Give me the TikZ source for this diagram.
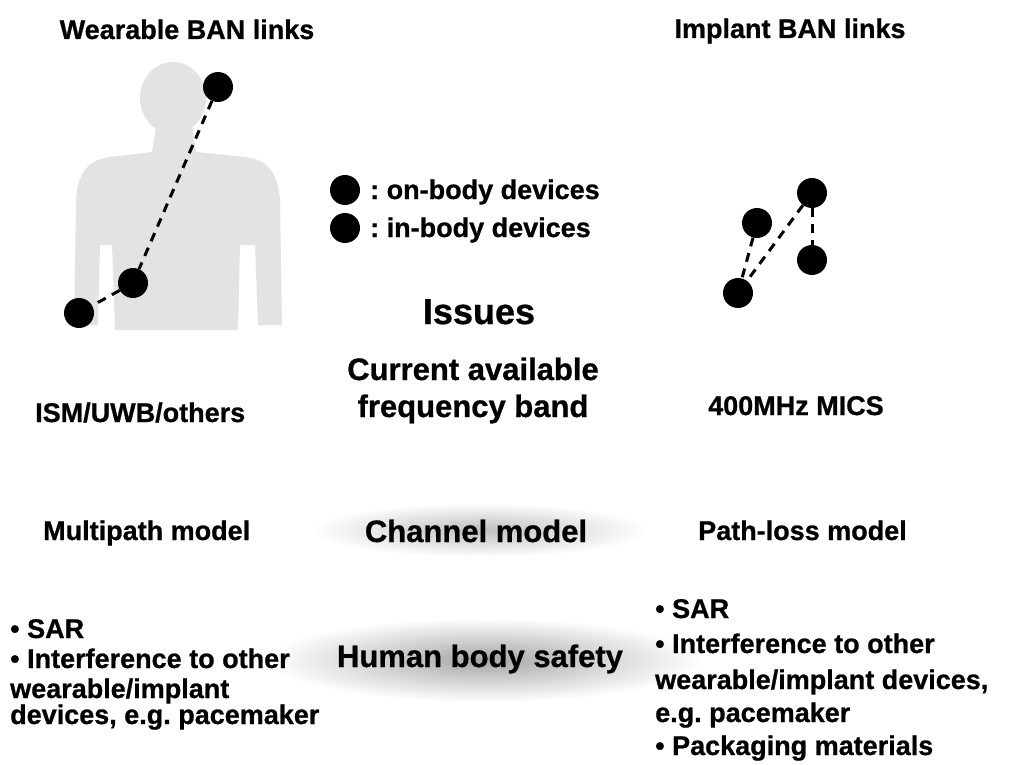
\documentclass[tikz,border=0pt]{standalone}
\usepackage{fontspec}
\setmainfont{Liberation Sans}[BoldFeatures={FakeBold=0.8}]
\frenchspacing
\begin{document}
\begin{tikzpicture}[x=1pt,y=-1pt,
  txt/.style={font=\bfseries\fontsize{27}{30}\selectfont, inner sep=0pt},
  midhead/.style={font=\bfseries\fontsize{31}{36}\selectfont, inner sep=0pt},
  bighead/.style={font=\bfseries\fontsize{36}{40}\selectfont, inner sep=0pt},
  dev/.style={circle, fill=black, minimum size=30pt, inner sep=0pt},
  link/.style={line width=3pt, dash pattern=on 9pt off 7pt},
  bodyfill/.style={fill=black!11}]
\useasboundingbox (0,0) rectangle (1012,765);

% body silhouette (stippled in the original)
\fill[bodyfill] (173,98) ellipse (33 and 36);
\fill[bodyfill] (156,126) -- (192,126) -- (196,152) -- (245,157)
  .. controls (270,160) and (278,175) .. (280,200) -- (282,325) -- (258,325)
  -- (255,245) -- (240,245) -- (238,330) -- (115,330) -- (112,245)
  -- (100,245) -- (98,325) -- (74,325) -- (76,200)
  .. controls (78,172) and (88,160) .. (110,157) -- (152,152) -- cycle;

% glows
\shade[inner color=black!25, outer color=white] (480,530) ellipse (168 and 27);
\shade[inner color=black!35, outer color=white] (485,660) ellipse (218 and 42);

% titles
\node[txt, anchor=base] (wt) at (187,39) {Wearable BAN links};
\node[txt, anchor=base] (it) at (790,38) {Implant BAN links};

% wearable devices
\node[dev] (w1) at (218,87) {};
\node[dev] (w2) at (133,283) {};
\node[dev] (w3) at (79,313) {};
\draw[link] (w1) -- (w2);
\draw[link] (w2) -- (w3);

% implant devices
\node[dev] (i1) at (812,193) {};
\node[dev] (i2) at (757,223) {};
\node[dev] (i3) at (812,260) {};
\node[dev] (i4) at (738,293) {};
\draw[link] (i2) -- (i4);
\draw[link] (i1) -- (i4);
\draw[link] (i1) -- (i3);

% legend
\node[dev] (lg1) at (345,190) {};
\node[dev] (lg2) at (345,228) {};
\node[txt, anchor=base west] (lt1) at (370,199) {: on-body devices};
\node[txt, anchor=base west] (lt2) at (370,237) {: in-body devices};

% centre column
\node[bighead, anchor=base] (iss) at (479,324) {Issues};
\node[midhead, anchor=base] (cur1) at (473,380) {Current available};
\node[midhead, anchor=base] (cur2) at (473,417) {frequency band};
\node[midhead, anchor=base] (chm) at (476,542) {Channel model};
\node[midhead, anchor=base] (hbs) at (480,667) {Human body safety};

% side labels
\node[txt, anchor=base west] (ism) at (35,422) {ISM/UWB/others};
\node[txt, anchor=base west] (mics) at (708,415) {400MHz MICS};
\node[txt, anchor=base west] (mpm) at (43,540) {Multipath model};
\node[txt, anchor=base west] (plm) at (698,540) {Path-loss model};

% left list
\node[txt, anchor=base west] (l1) at (10,638) {\textbullet{} SAR};
\node[txt, anchor=base west] (l2) at (10,668) {\textbullet{} Interference to other};
\node[txt, anchor=base west] (l3) at (10,698) {wearable/implant};
\node[txt, anchor=base west] (l4) at (10,724) {devices, e.g. pacemaker};

% right list
\node[txt, anchor=base west] (r1) at (655,618) {\textbullet{} SAR};
\node[txt, anchor=base west] (r2) at (655,653) {\textbullet{} Interference to other};
\node[txt, anchor=base west] (r3) at (655,689) {wearable/implant devices,};
\node[txt, anchor=base west] (r4) at (655,722) {e.g. pacemaker};
\node[txt, anchor=base west] (r5) at (655,755) {\textbullet{} Packaging materials};
\end{tikzpicture}
\end{document}
